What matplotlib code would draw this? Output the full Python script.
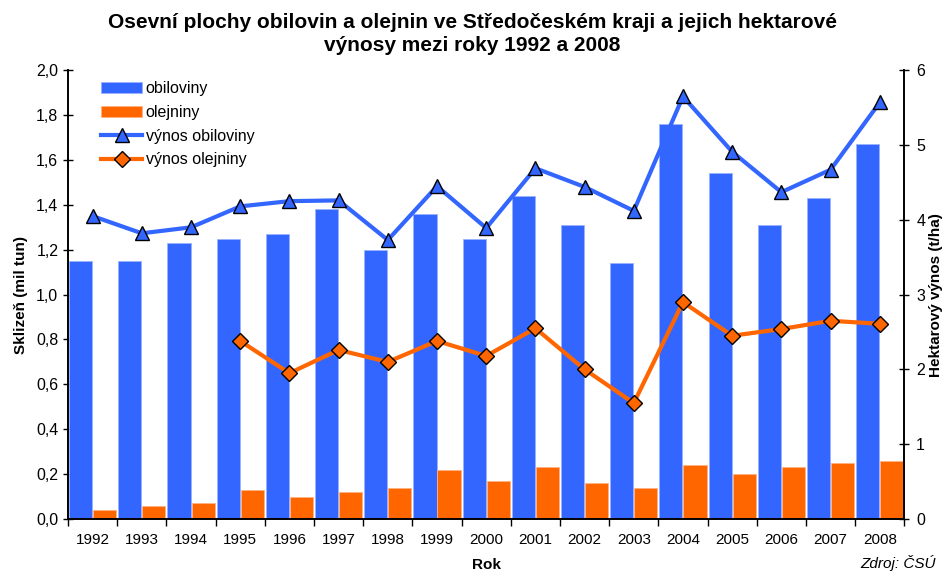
import numpy as np
import matplotlib
matplotlib.use("Agg")
import matplotlib.pyplot as plt
from matplotlib.ticker import FuncFormatter, FixedLocator

plt.rcParams["font.family"] = ["Liberation Sans", "DejaVu Sans"]

years = ["1992", "1993", "1994", "1995", "1996", "1997", "1998", "1999", "2000",
         "2001", "2002", "2003", "2004", "2005", "2006", "2007", "2008"]
obiloviny = [1.15, 1.15, 1.23, 1.25, 1.27, 1.38, 1.20, 1.36, 1.25,
             1.44, 1.31, 1.14, 1.76, 1.54, 1.31, 1.43, 1.67]
olejniny = [0.04, 0.06, 0.07, 0.13, 0.10, 0.12, 0.14, 0.22, 0.17,
            0.23, 0.16, 0.14, 0.24, 0.20, 0.23, 0.25, 0.26]
vynos_obiloviny = [4.05, 3.82, 3.90, 4.18, 4.25, 4.26, 3.73, 4.45, 3.89,
                   4.69, 4.44, 4.12, 5.65, 4.91, 4.37, 4.67, 5.57]
vynos_olejniny = [np.nan, np.nan, np.nan, 2.38, 1.95, 2.26, 2.10, 2.38, 2.18,
                  2.55, 2.00, 1.55, 2.90, 2.45, 2.54, 2.65, 2.61]

blue = "#3366FF"
orange = "#FF6600"

fig = plt.figure(figsize=(9.45, 5.76), dpi=100)
ax = fig.add_axes([0.072, 0.099, 0.885, 0.779])
ax2 = ax.twinx()

x = np.arange(len(years))
w = 0.47
ax.bar(x - w / 2 - 0.01, obiloviny, w, color=blue, edgecolor="#99b3ff", linewidth=0.6, label="obiloviny", zorder=2)
ax.bar(x + w / 2 + 0.01, olejniny, w, color=orange, edgecolor="#ffb380", linewidth=0.6, label="olejniny", zorder=2)

ax2.plot(x, vynos_obiloviny, color=blue, lw=3, marker="^", markersize=10,
         markerfacecolor=blue, markeredgecolor="black", markeredgewidth=1, label="výnos obiloviny")
ax2.plot(x, vynos_olejniny, color=orange, lw=3, marker="D", markersize=8,
         markerfacecolor=orange, markeredgecolor="black", markeredgewidth=1, label="výnos olejniny")

ax.set_xlim(-0.5, len(years) - 0.5)
ax.set_ylim(0, 2.0)
ax2.set_ylim(0, 6)
ax.set_yticks(np.arange(0, 2.01, 0.2))
ax2.set_yticks(range(0, 7))
ax.yaxis.set_major_formatter(FuncFormatter(lambda v, p: f"{v:.1f}".replace(".", ",")))

ax.xaxis.set_major_locator(FixedLocator(np.arange(-0.5, len(years), 1)))
ax.xaxis.set_minor_locator(FixedLocator(x))
ax.set_xticklabels([])
ax.set_xticklabels(years, minor=True)
ax.tick_params(axis="x", which="major", direction="out", length=5, width=1)
ax.tick_params(axis="x", which="minor", length=0, pad=10, labelsize=11)
ax.tick_params(axis="y", direction="inout", length=7, width=1, labelsize=11.5)
ax2.tick_params(axis="y", direction="inout", length=7, width=1, labelsize=11.5, pad=5)

for a in (ax, ax2):
    a.spines["top"].set_visible(False)
    for s in ("left", "right", "bottom"):
        a.spines[s].set_linewidth(1.2)

ax.set_xlabel("Rok", fontsize=11, fontweight="bold", labelpad=8)
ax.set_ylabel("Sklizeň (mil tun)", fontsize=11, fontweight="bold", labelpad=6)
ax2.set_ylabel("Hektarový výnos (t/ha)", fontsize=11, fontweight="bold", labelpad=3)

fig.suptitle("Osevní plochy obilovin a olejnin ve Středočeském kraji a jejich hektarové\nvýnosy mezi roky 1992 a 2008",
             fontsize=15, fontweight="bold", y=0.978, linespacing=1.3)

h1, l1 = ax.get_legend_handles_labels()
h2, l2 = ax2.get_legend_handles_labels()
ax.legend(h1 + h2, l1 + l2, loc="upper left", bbox_to_anchor=(0.022, 1.008), frameon=False,
          fontsize=11.5, handlelength=2.6, handletextpad=0.2, labelspacing=0.55)

fig.text(0.99, 0.008, "Zdroj: ČSÚ", ha="right", va="bottom", fontsize=11, style="italic")

fig.savefig("out.png", dpi=100)
